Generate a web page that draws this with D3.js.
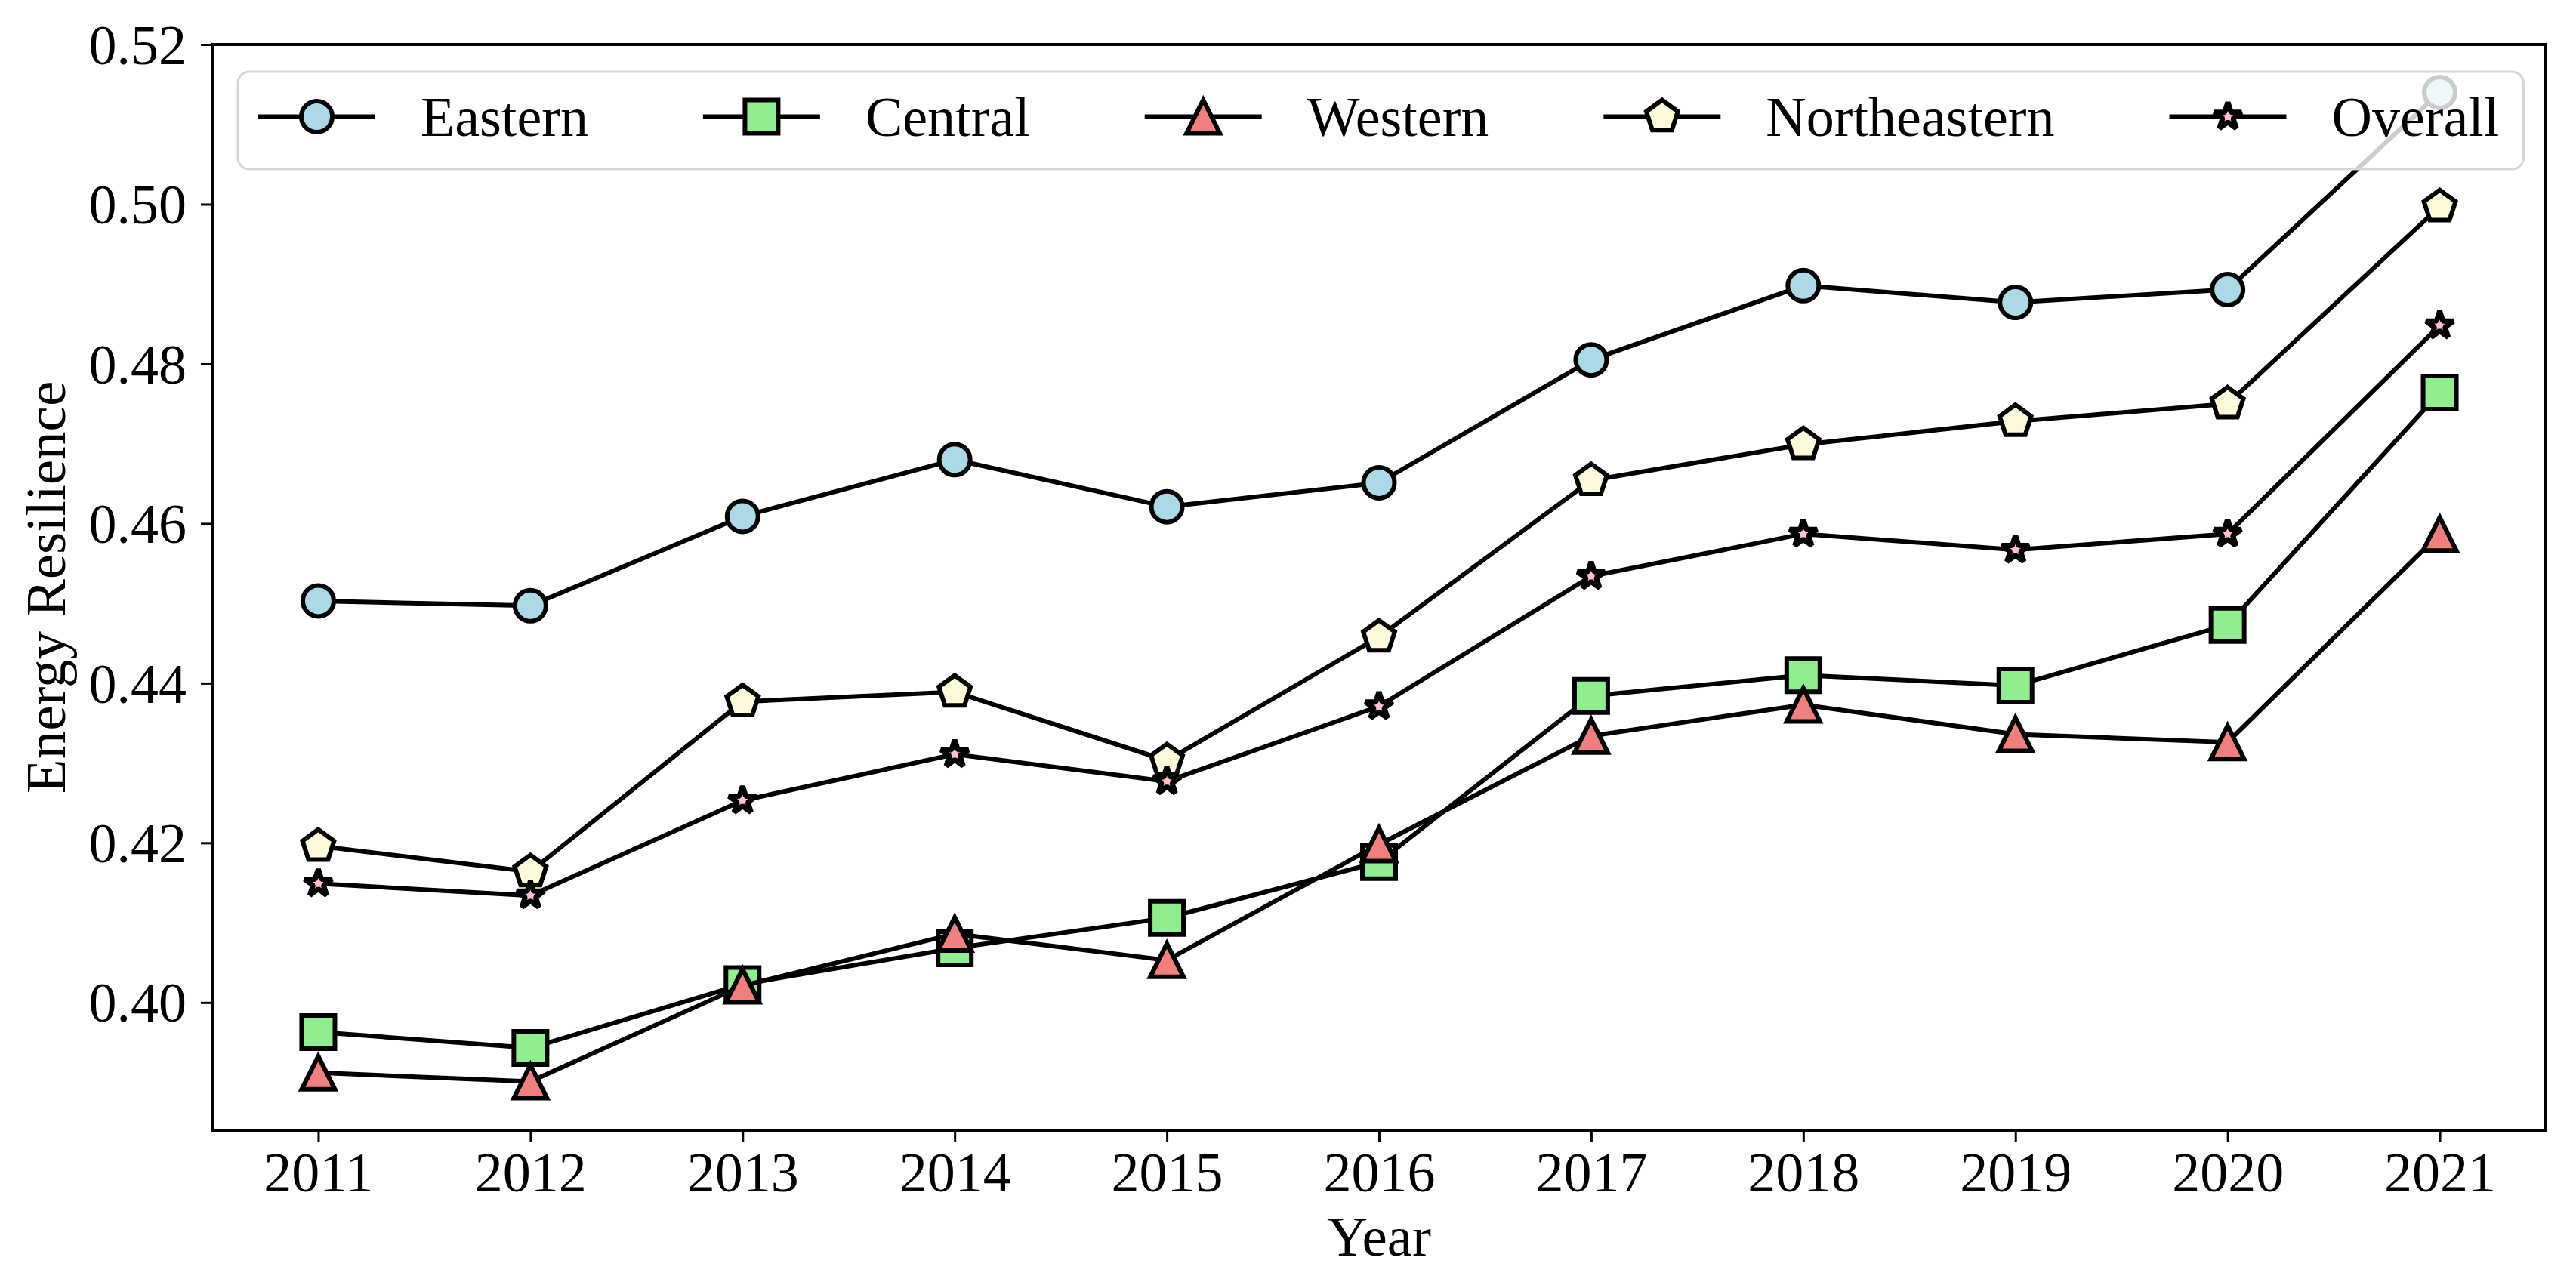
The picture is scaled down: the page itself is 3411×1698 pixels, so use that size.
<!DOCTYPE html>
<html>
<head>
<meta charset="utf-8">
<script src="https://cdn.jsdelivr.net/npm/d3@7"></script>
<style>
  body { margin: 0; background: #fff; }
  svg { display: block; }
  text { font-family: "Liberation Serif", "Times New Roman", serif; fill: #000; }
</style>
</head>
<body>
<svg id="chart" width="3411" height="1698"></svg>
<script>
/* globals d3 */

// Values
const years = [2011, 2012, 2013, 2014, 2015, 2016, 2017, 2018, 2019, 2020, 2021];
const eastern = [0.4503, 0.4497, 0.4609, 0.4680, 0.4621, 0.4651, 0.4805, 0.4898, 0.4877, 0.4893, 0.5140];
const central = [0.3963, 0.3943, 0.4023, 0.4068, 0.4106, 0.4176, 0.4384, 0.4410, 0.4397, 0.4473, 0.4764];
const western = [0.3912, 0.3901, 0.4021, 0.4086, 0.4053, 0.4198, 0.4334, 0.4373, 0.4336, 0.4326, 0.4587];
const northeastern = [0.4196, 0.4164, 0.4377, 0.4389, 0.4303, 0.4458, 0.4654, 0.4699, 0.4728, 0.4750, 0.4997];
const overall = [0.4149, 0.4134, 0.4253, 0.4311, 0.4277, 0.4371, 0.4534, 0.4587, 0.4567, 0.4587, 0.4848];

const seriesNames = ['Eastern', 'Central', 'Western', 'Northeastern', 'Overall'];
const seriesValues = [eastern, central, western, northeastern, overall];
const seriesFills = ['#add8e6', '#90ee90', '#f08080', '#fcfadb', '#ffc0cb'];
const seriesShapes = ['circle', 'square', 'triangle', 'pentagon', 'star'];

const yTicks = [0.40, 0.42, 0.44, 0.46, 0.48, 0.50, 0.52];
const yDomain = [0.384, 0.52];
const xDomain = [2010.5, 2021.5];

// Layout
const plot = { left: 281, right: 3371, top: 59, bottom: 1497 };
const fontSize = 74;
const lineWidth = 6;
const markerSize = 44;

const svg = d3.select('#chart');

const x = d3.scaleLinear().domain(xDomain).range([plot.left, plot.right]);
const y = d3.scaleLinear().domain(yDomain).range([plot.bottom, plot.top]);

// matplotlib-like marker outlines, centred on 0,0
const markerPath = (shape, size = markerSize) => {
  const r = size / 2;
  const poly = (n, radii) => {
    const pts = d3.range(n).map(i => {
      const a = -Math.PI / 2 + i * 2 * Math.PI / n;
      const rr = radii[i % radii.length];
      return [rr * Math.cos(a), rr * Math.sin(a)];
    });
    return 'M' + pts.map(p => p.join(',')).join('L') + 'Z';
  };
  if (shape === 'circle') {
    const c = r - 1.5;
    return `M${-c},0A${c},${c} 0 1,1 ${c},0A${c},${c} 0 1,1 ${-c},0Z`;
  }
  if (shape === 'square') return `M${-r},${-r}H${r}V${r}H${-r}Z`;
  if (shape === 'triangle') return `M0,${-r}L${r},${r}L${-r},${r}Z`;
  if (shape === 'pentagon') return poly(5, [r]);
  // star drawn a bit smaller so its heavy outline leaves only a pink core
  const s = r - 3;
  return poly(10, [s, s * 0.381966]);
};
const joinFor = shape => shape === 'star' ? 'bevel' : 'miter';
const edgeFor = shape => shape === 'star' ? lineWidth + 1 : lineWidth;

// Axes ticks
const xAxis = svg.append('g')
  .attr('transform', `translate(0,${plot.bottom})`)
  .call(d3.axisBottom(x).tickValues(years).tickFormat(d3.format('d')).tickSize(15).tickSizeOuter(0));
xAxis.select('.domain').remove();
xAxis.selectAll('.tick line').attr('stroke', '#000').attr('stroke-width', 3);
xAxis.selectAll('.tick text')
  .attr('y', 81).attr('dy', 0)
  .style('font-size', `${fontSize}px`);

const yAxis = svg.append('g')
  .attr('transform', `translate(${plot.left},0)`)
  .call(d3.axisLeft(y).tickValues(yTicks).tickFormat(d3.format('.2f')).tickSize(15).tickSizeOuter(0));
yAxis.select('.domain').remove();
yAxis.selectAll('.tick line').attr('stroke', '#000').attr('stroke-width', 3);
yAxis.selectAll('.tick text')
  .attr('x', -34).attr('dy', '0.34em')
  .style('font-size', `${fontSize}px`);

// Series
const line = d3.line()
  .x((d, i) => x(years[i]))
  .y(d => y(d));

seriesNames.forEach((name, k) => {
  const g = svg.append('g').attr('class', 'series');
  g.append('path')
    .datum(seriesValues[k])
    .attr('d', line)
    .attr('fill', 'none')
    .attr('stroke', '#000')
    .attr('stroke-width', lineWidth)
    .attr('stroke-linejoin', 'round');
  g.selectAll('.marker')
    .data(seriesValues[k])
    .join('path')
    .attr('class', 'marker')
    .attr('transform', (d, i) => `translate(${x(years[i])},${y(d)})`)
    .attr('d', markerPath(seriesShapes[k]))
    .attr('fill', seriesFills[k])
    .attr('stroke', '#000')
    .attr('stroke-width', edgeFor(seriesShapes[k]))
    .attr('stroke-linejoin', joinFor(seriesShapes[k]))
    .attr('stroke-miterlimit', 10);
});

// Frame
svg.append('rect')
  .attr('x', plot.left).attr('y', plot.top)
  .attr('width', plot.right - plot.left).attr('height', plot.bottom - plot.top)
  .attr('fill', 'none').attr('stroke', '#000').attr('stroke-width', 4);

// Axis labels
svg.append('text')
  .attr('x', (plot.left + plot.right) / 2).attr('y', 1663)
  .attr('text-anchor', 'middle')
  .style('font-size', `${fontSize + 1}px`)
  .text('Year');
svg.append('text')
  .attr('transform', `translate(86,${(plot.top + plot.bottom) / 2}) rotate(-90)`)
  .attr('text-anchor', 'middle')
  .style('font-size', `${fontSize + 1}px`)
  .text('Energy Resilience');

// Legend, one row of five entries
const legendBox = { x: 315, y: 95, h: 129, padLeft: 27, padRight: 32 };
const handleLen = 155;
const textGap = 60;
const colSpacing = 152;
const legendCy = legendBox.y + legendBox.h / 2 - 5;

const legend = svg.append('g').attr('class', 'legend');
const frame = legend.append('rect')
  .attr('x', legendBox.x).attr('y', legendBox.y)
  .attr('height', legendBox.h)
  .attr('rx', 15).attr('ry', 15)
  .attr('fill', '#fff').attr('fill-opacity', 0.8)
  .attr('stroke', '#d6d6d6').attr('stroke-width', 3);

let cursor = legendBox.x + legendBox.padLeft;
seriesNames.forEach((name, k) => {
  const item = legend.append('g');
  item.append('line')
    .attr('x1', cursor).attr('x2', cursor + handleLen)
    .attr('y1', legendCy).attr('y2', legendCy)
    .attr('stroke', '#000').attr('stroke-width', lineWidth);
  item.append('path')
    .attr('transform', `translate(${cursor + handleLen / 2},${legendCy})`)
    .attr('d', markerPath(seriesShapes[k]))
    .attr('fill', seriesFills[k])
    .attr('stroke', '#000')
    .attr('stroke-width', edgeFor(seriesShapes[k]))
    .attr('stroke-linejoin', joinFor(seriesShapes[k]))
    .attr('stroke-miterlimit', 10);
  const label = item.append('text')
    .attr('x', cursor + handleLen + textGap)
    .attr('y', legendCy + 25)
    .style('font-size', `${fontSize}px`)
    .text(name);
  const w = label.node().getComputedTextLength();
  cursor += handleLen + textGap + w;
  if (k < seriesNames.length - 1) cursor += colSpacing;
});
frame.attr('width', cursor + legendBox.padRight - legendBox.x);
</script>
</body>
</html>
